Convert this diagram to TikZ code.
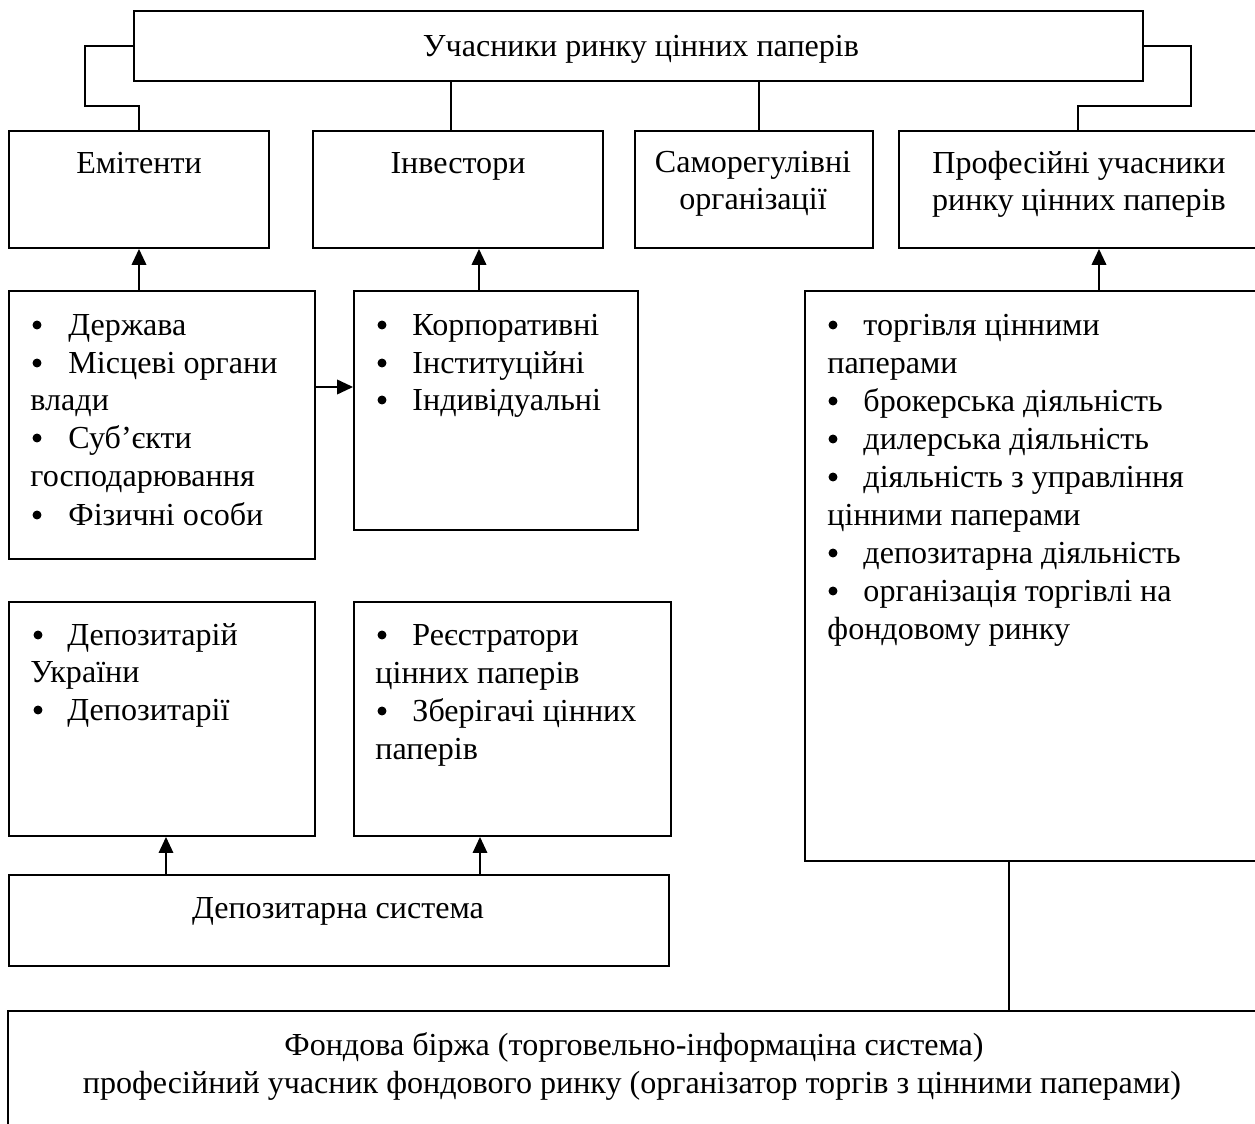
\documentclass[tikz,border=0pt]{standalone}
\usepackage{fontspec}
\setmainfont{Liberation Serif}
\usetikzlibrary{arrows.meta,fit}
\begin{document}
\begin{tikzpicture}[x=0.424pt,y=-0.424pt,
  box/.style={draw,line width=0.8pt,inner sep=0pt},
  txt/.style={inner sep=0pt,yshift=-2.3pt,font=\fontsize{13.6pt}{15.6pt}\selectfont},
  ctext/.style={txt,anchor=mid},
  ltext/.style={txt,anchor=mid west},
  dot/.style={circle,fill,inner sep=0pt,minimum size=3.8pt},
  link/.style={line width=0.8pt},
  thinlink/.style={line width=0.55pt},
  arrow/.style={-{Triangle[length=6.8pt,width=6.2pt]}},
]
\clip (0,0) rectangle (1255,1124);

% ---- boxes ----
\node[box,fit={(134,11)(1143,81)}]   (top)  {};
\node[box,fit={(9,131)(269,248)}]    (emit) {};
\node[box,fit={(313,131)(603,248)}]  (inv)  {};
\node[box,fit={(635,131)(873,248)}]  (self) {};
\node[box,fit={(899,131)(1257,248)}] (prof) {};
\node[box,fit={(9,291)(315,559)}]    (elist) {};
\node[box,fit={(354,291)(638,530)}]  (ilist) {};
\node[box,fit={(805,291)(1393,861)}] (plist) {};
\node[box,fit={(9,602)(315,836)}]    (dep)  {};
\node[box,fit={(354,602)(671,836)}]  (reg)  {};
\node[box,fit={(9,875)(669,966)}]    (dsys) {};
\node[box,fit={(8,1011)(1270,1140)}] (exch) {};

% ---- junction columns ----
\coordinate (xinv)  at (451,0);
\coordinate (xself) at (759,0);
\coordinate (xia)   at (479,0);
\coordinate (xda)   at (166,0);
\coordinate (xra)   at (480,0);
\coordinate (xex)   at (1009,0);
\coordinate (yea)   at (0,387);

% ---- connectors ----
\draw[link] (top.west) -- ++(-48,0) -- ++(0,60) -| (emit.north);
\draw[link] (top.east) -- ++(47,0) -- ++(0,60) -| (prof.north);
\draw[link] (top.south -| xinv) -- (inv.north -| xinv);
\draw[link] (top.south -| xself) -- (self.north -| xself);

\draw[link,arrow] (elist.north -| emit.south) -- (emit.south);
\draw[link,arrow] (ilist.north -| xia) -- (inv.south -| xia);
\draw[link,arrow] (plist.north) -- (plist.north |- prof.south);
\draw[link,arrow] (elist.east |- yea) -- (ilist.west |- yea);

\draw[thinlink,arrow] (dsys.north -| xda) -- (dep.south -| xda);
\draw[thinlink,arrow] (dsys.north -| xra) -- (reg.south -| xra);
\draw[thinlink] (plist.south -| xex) -- (exch.north -| xex);

% ---- headings ----
\node[ctext] (ttop) at (641,46) {Учасники ринку цінних паперів};
\node[ctext] (temit) at (139,163) {Емітенти};
\node[ctext] (tinv) at (458,163) {Інвестори};
\node[ctext] (tself1) at (753,162) {Саморегулівні};
\node[ctext] (tself2) at (753,199) {організації};
\node[ctext] (tprof1) at (1079,163) {Професійні учасники};
\node[ctext] (tprof2) at (1079,200) {ринку цінних паперів};
\node[ctext] (tdsys) at (338,908) {Депозитарна система};
\node[ctext] (tex1) at (634,1045) {Фондова біржа (торговельно-інформаціна система)};
\node[ctext] (tex2) at (632,1083) {професійний учасник фондового ринку (організатор торгів з цінними паперами)};

% ---- issuers list ----
\foreach \y [count=\i] in {325,363,438,515} \node[dot] (eb\i) at (37,\y) {};
\foreach \y/\t [count=\i] in {325/Держава,363/Місцеві органи,438/Суб’єкти,515/Фізичні особи}
  \node[ltext] (et\i) at (68,\y) {\t};
\foreach \y/\t [count=\i] in {400/влади,476/господарювання}
  \node[ltext] (ec\i) at (30,\y) {\t};

% ---- investors list ----
\foreach \y/\t [count=\i] in {325/Корпоративні,363/Інституційні,400/Індивідуальні}{
  \node[dot] (ib\i) at (382,\y) {};
  \node[ltext] (it\i) at (412,\y) {\t};
}

% ---- professional activities list ----
\foreach \y [count=\i] in {325,401,439,477,553,591} \node[dot] (pb\i) at (833,\y) {};
\foreach \y/\t [count=\i] in {325/торгівля цінними,401/брокерська діяльність,439/дилерська діяльність,
  477/діяльність з управління,553/депозитарна діяльність,591/організація торгівлі на}
  \node[ltext] (pt\i) at (863,\y) {\t};
\foreach \y/\t [count=\i] in {363/паперами,515/цінними паперами,629/фондовому ринку}
  \node[ltext] (pc\i) at (827,\y) {\t};

% ---- depositories list ----
\foreach \y [count=\i] in {635,710} \node[dot] (db\i) at (38,\y) {};
\foreach \y/\t [count=\i] in {635/Депозитарій,710/Депозитарії}
  \node[ltext] (dt\i) at (67,\y) {\t};
\node[ltext] (dc1) at (30,672) {України};

% ---- registrars list ----
\foreach \y [count=\i] in {635,711} \node[dot] (rb\i) at (382,\y) {};
\foreach \y/\t [count=\i] in {635/Реєстратори,711/Зберігачі цінних}
  \node[ltext] (rt\i) at (412,\y) {\t};
\foreach \y/\t [count=\i] in {673/цінних паперів,749/паперів}
  \node[ltext] (rc\i) at (375,\y) {\t};
\end{tikzpicture}
\end{document}
